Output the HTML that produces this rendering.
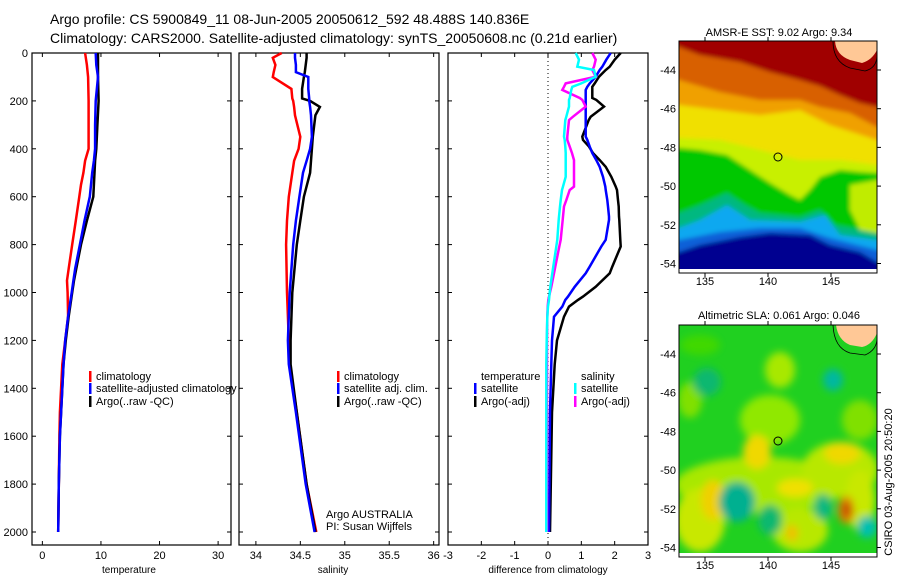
<!DOCTYPE html>
<html><head><meta charset="utf-8"><style>
body{margin:0;background:#fff;}
svg{display:block;font-family:"Liberation Sans",sans-serif;}
</style></head><body>
<svg id="c" width="900" height="580" xmlns="http://www.w3.org/2000/svg">
<defs>
<filter id="bl" x="-50%" y="-50%" width="200%" height="200%"><feGaussianBlur stdDeviation="4"/></filter>
<filter id="bl2" x="-10%" y="-10%" width="120%" height="120%"><feGaussianBlur stdDeviation="2"/></filter>
<clipPath id="cm1"><rect x="679" y="41" width="198" height="228"/></clipPath>
<clipPath id="cm2"><rect x="679" y="325" width="198" height="228"/></clipPath>
</defs>
<text x="50" y="24" font-size="14">Argo profile: CS 5900849_11 08-Jun-2005 20050612_592 48.488S 140.836E</text>
<text x="50" y="43" font-size="14">Climatology: CARS2000. Satellite-adjusted climatology: synTS_20050608.nc (0.21d earlier)</text>

<!-- SST map -->
<g>
<g clip-path="url(#cm1)" filter="url(#bl2)">
<rect x="670" y="30" width="220" height="250" fill="#a00000"/>
<polygon fill="#d86000" points="670,45 679,47 700,55 740,62 770,72 800,80 820,86 840,95 860,103 890,110 890,280 670,280"/>
<polygon fill="#f0a000" points="670,75 679,80 720,92 760,100 800,100 820,107 850,113 877,127 890,128 890,280 670,280"/>
<polygon fill="#f0e000" points="670,100 679,105 720,110 760,115 800,110 830,125 877,140 890,140 890,280 670,280"/>
<polygon fill="#c8f000" points="670,135 679,138 720,140 760,150 800,160 840,160 877,165 890,165 890,280 670,280"/>
<polygon fill="#00c800" points="670,148 679,148 700,150 727,155 750,170 770,183 790,195 800,200 810,190 820,177 840,170 860,172 877,173 890,173 890,280 670,280"/>
<polygon fill="#c0ec00" points="850,185 877,180 890,180 890,240 860,230 850,210"/>
<polygon fill="#00b880" points="670,213 679,213 700,205 727,193 745,205 760,213 800,217 820,210 835,225 877,233 890,233 890,280 670,280"/>
<polygon fill="#10a8f0" points="670,228 679,228 700,220 727,205 750,220 800,222 825,215 840,235 877,240 890,240 890,280 670,280"/>
<polygon fill="#1060d8" points="670,240 679,240 720,232 760,228 800,228 830,238 877,250 890,250 890,280 670,280"/>
<polygon fill="#000090" points="670,252 679,252 700,245 740,237 770,233 810,235 830,245 860,252 877,262 890,262 890,280 670,280"/>
</g>
<rect x="679" y="269" width="198" height="4" fill="#fff"/>
<path d="M835,41 Q836,55 850,60 L862,63 Q872,60 877,50 L877,41 Z" fill="#ffc896"/>
<path d="M833,41 Q833,62 850,68 L865,71 Q877,68 877,55" fill="none" stroke="#000" stroke-width="0.8"/>
<circle cx="778" cy="157" r="4" fill="none" stroke="#000" stroke-width="1"/>
<rect x="679" y="41" width="198" height="232" fill="none" stroke="#000"/>
<text x="779" y="36" font-size="11" text-anchor="middle">AMSR-E SST: 9.02 Argo: 9.34</text>
</g>

<!-- SLA map -->
<g>
<g clip-path="url(#cm2)">
<rect x="670" y="315" width="220" height="250" fill="#20d020"/>
<g filter="url(#bl)">
<ellipse cx="780" cy="370" rx="15" ry="18" fill="#a8e800"/>
<ellipse cx="690" cy="400" rx="12" ry="18" fill="#80e000"/>
<ellipse cx="700" cy="345" rx="20" ry="10" fill="#40d800"/>
<ellipse cx="770" cy="420" rx="30" ry="25" fill="#90e800"/>
<ellipse cx="860" cy="420" rx="18" ry="20" fill="#80e000"/>
<ellipse cx="760" cy="485" rx="85" ry="28" fill="#a8e800"/>
<ellipse cx="840" cy="470" rx="38" ry="28" fill="#b8e800"/>
<ellipse cx="700" cy="520" rx="25" ry="32" fill="#c8e800"/>
<ellipse cx="800" cy="530" rx="28" ry="22" fill="#b8e800"/>
<ellipse cx="860" cy="500" rx="15" ry="30" fill="#c8e800"/>
<ellipse cx="757" cy="452" rx="14" ry="17" fill="#f0d800"/>
<ellipse cx="842" cy="453" rx="18" ry="11" fill="#f0d800"/>
<ellipse cx="713" cy="500" rx="12" ry="20" fill="#f0d000"/>
<ellipse cx="795" cy="488" rx="18" ry="9" fill="#f0e000"/>
<ellipse cx="792" cy="533" rx="6" ry="8" fill="#f0c000"/>
<ellipse cx="846" cy="510" rx="8" ry="14" fill="#e08000"/>
<ellipse cx="847" cy="510" rx="4" ry="7" fill="#c04000"/>
<ellipse cx="833" cy="380" rx="10" ry="11" fill="#00b8a0"/>
<ellipse cx="707" cy="382" rx="14" ry="14" fill="#10b870"/>
<ellipse cx="737" cy="502" rx="18" ry="20" fill="#00b090"/>
<ellipse cx="867" cy="527" rx="10" ry="11" fill="#00c0b0"/>
<ellipse cx="823" cy="507" rx="9" ry="13" fill="#10b880"/>
<ellipse cx="770" cy="520" rx="12" ry="15" fill="#10b870"/>
</g>
</g>
<path d="M836,325 Q838,340 850,345 L862,347 Q872,345 877,333 L877,325 Z" fill="#ffc896"/>
<path d="M833,325 Q834,348 850,353 L865,355 Q877,350 877,338" fill="none" stroke="#000" stroke-width="0.8"/>
<circle cx="778" cy="441" r="4" fill="none" stroke="#000" stroke-width="1"/>
<rect x="679" y="325" width="198" height="232" fill="none" stroke="#000"/>
<text x="779" y="319" font-size="11" text-anchor="middle">Altimetric SLA: 0.061 Argo: 0.046</text>
</g>
<text transform="translate(892,482) rotate(-90)" font-size="11" text-anchor="middle">CSIRO 03-Aug-2005 20:50:20</text>
<g id="dyn"></g>
</svg>
<script>
// depth axis
const depthTicks=[0,200,400,600,800,1000,1200,1400,1600,1800,2000];
const tempTicks=[0,10,20,30];
const salTicks=[34,34.5,35,35.5,36];
const diffTicks=[-3,-2,-1,0,1,2,3];
// temperature profiles
const tDepth=[0,50,100,200,300,400,450,500,550,600,700,800,900,950,1000,1100,1200,1300,1400,1500,1600,1800,2000];
const tClim=[7.3,7.6,7.8,7.9,7.9,7.9,7.3,7.0,6.6,6.3,5.7,5.1,4.5,4.2,4.3,4.4,3.9,3.4,3.2,3.0,2.9,2.8,2.7];
const tSat=[9.1,9.2,9.5,9.1,9.0,9.0,8.8,8.5,8.3,8.1,7.2,6.4,5.6,5.3,5.0,4.4,3.9,3.6,3.4,3.2,3.0,2.8,2.7];
const tArgo=[9.5,9.5,9.5,9.6,9.4,9.2,9.0,8.9,8.8,8.7,7.6,6.6,5.8,5.4,5.1,4.5,4.0,3.6,3.4,3.2,3.0,2.8,2.7];
// salinity profiles
const sDepth=[0,20,50,80,100,150,190,200,225,260,350,400,450,500,600,700,800,1000,1200,1300,1500,1800,2000];
const sClim=[34.29,34.19,34.22,34.20,34.19,34.40,34.41,34.42,34.43,34.44,34.50,34.48,34.43,34.41,34.37,34.35,34.34,34.35,34.37,34.38,34.46,34.57,34.68];
const sSat=[34.44,34.44,34.45,34.45,34.59,34.59,34.60,34.60,34.61,34.62,34.63,34.61,34.57,34.53,34.49,34.45,34.42,34.38,34.36,34.37,34.45,34.56,34.66];
const sArgo=[34.57,34.57,34.56,34.55,34.54,34.52,34.52,34.61,34.72,34.67,34.64,34.63,34.62,34.61,34.54,34.50,34.46,34.41,34.39,34.39,34.46,34.57,34.67];
// differences
const dDepth=[0,28,57,71,99,127,141,154,188,196,224,266,280,349,363,391,418,447,475,517,558,572,614,641,683,697,780,808,892,920,976,1017,1031,1059,1101,1200,1300,1500,2000];
const dTempArgo=[2.18,2.0,1.85,1.73,1.53,1.40,1.33,1.33,1.33,1.45,1.68,1.28,1.22,1.03,1.05,1.23,1.35,1.55,1.73,1.90,2.03,2.07,2.10,2.12,2.13,2.14,2.17,2.18,1.93,1.85,1.43,1.05,0.90,0.63,0.48,0.27,0.20,0.12,0.06];
const dTempSat=[1.88,1.75,1.63,1.55,1.43,1.25,1.18,1.13,1.13,1.13,1.13,1.13,1.13,1.13,1.18,1.25,1.33,1.45,1.55,1.65,1.72,1.73,1.78,1.80,1.83,1.83,1.73,1.60,1.25,1.13,0.80,0.60,0.52,0.43,0.18,0.12,0.10,0.06,0.03];
const dSalSat=[0.83,0.93,0.88,1.38,1.43,1.00,0.73,0.70,0.65,0.63,0.63,0.55,0.52,0.48,0.50,0.52,0.53,0.53,0.53,0.53,0.45,0.42,0.38,0.36,0.33,0.32,0.28,0.25,0.16,0.13,0.07,0.04,0.03,0.0,-0.02,-0.04,-0.05,-0.05,-0.05];
const dSalArgo=[1.33,1.43,1.38,1.33,1.43,0.53,0.48,0.43,0.95,1.03,1.13,0.75,0.63,0.58,0.58,0.65,0.72,0.78,0.78,0.78,0.78,0.65,0.55,0.48,0.45,0.44,0.38,0.34,0.22,0.18,0.10,0.03,0.01,-0.01,-0.02,-0.03,-0.03,-0.03,-0.03];

const NS='http://www.w3.org/2000/svg';
const g=document.getElementById('dyn');
function el(tag,attrs,parent){const e=document.createElementNS(NS,tag);for(const k in attrs)e.setAttribute(k,attrs[k]);(parent||g).appendChild(e);return e;}
const Y0=53,Y1=545;
function yD(d){return 53+d*0.2395;}
function mkX(x0,x1,v0,v1){return v=>x0+(v-v0)/(v1-v0)*(x1-x0);}
const panels=[
 {name:'temperature-panel',x0:32,x1:231,v0:-1.77,v1:32.2,ticks:tempTicks,label:'temperature',lx:129},
 {name:'salinity-panel',x0:239,x1:439,v0:33.81,v1:36.06,ticks:salTicks,label:'salinity',lx:333},
 {name:'difference-panel',x0:448,x1:648,v0:-3,v1:3,ticks:diffTicks,label:'difference from climatology',lx:548}
];
panels.forEach((p,i)=>{
 p.sx=mkX(p.x0,p.x1,p.v0,p.v1);
 const pg=el('g',{});
 
 
 p.g=pg;
 const r=el('rect',{x:p.x0,y:Y0,width:p.x1-p.x0,height:Y1-Y0,fill:'none',stroke:'#000','stroke-width':1.2},pg);
 
 
 depthTicks.forEach(d=>{
  el('line',{x1:p.x0,x2:p.x0+4,y1:yD(d),y2:yD(d),stroke:'#000'},pg);
  el('line',{x1:p.x1-4,x2:p.x1,y1:yD(d),y2:yD(d),stroke:'#000'},pg);
  if(i===0){const t=el('text',{x:28,y:yD(d)+4,'font-size':11,'text-anchor':'end'},pg);t.textContent=d;
   
   }
 });
 p.ticks.forEach(v=>{
  const x=p.sx(v);
  el('line',{x1:x,x2:x,y1:Y0,y2:Y0+4,stroke:'#000'},pg);
  el('line',{x1:x,x2:x,y1:Y1-4,y2:Y1,stroke:'#000'},pg);
  const t=el('text',{x:x,y:559,'font-size':11,'text-anchor':'middle'},pg);t.textContent=v;
  
  
 });
 const l=el('text',{x:p.lx,y:573,'font-size':10,'text-anchor':'middle'},pg);l.textContent=p.label;
 
 
});
function line(p,xs,ds,color,name,w){
 const pts=xs.map((v,k)=>p.sx(v).toFixed(1)+','+yD(ds[k]).toFixed(1)).join(' ');
 const e=el('polyline',{points:pts,fill:'none',stroke:color,'stroke-width':w||2.5,'stroke-linejoin':'miter'},p.g);
 
 
}
// zero line
const zx=panels[2].sx(0);
const z=el('line',{x1:zx,x2:zx,y1:Y0,y2:Y1,stroke:'#000','stroke-dasharray':'1,3'},panels[2].g);


line(panels[0],tClim,tDepth,'#f00','temperature-climatology-line');
line(panels[0],tArgo,tDepth,'#000','temperature-argo-line');
line(panels[0],tSat,tDepth,'#00f','temperature-satellite-line');
line(panels[1],sClim,sDepth,'#f00','salinity-climatology-line');
line(panels[1],sArgo,sDepth,'#000','salinity-argo-line');
line(panels[1],sSat,sDepth,'#00f','salinity-satellite-line');
line(panels[2],dTempArgo,dDepth,'#000','temp-diff-argo-line');
line(panels[2],dTempSat,dDepth,'#00f','temp-diff-satellite-line');
line(panels[2],dSalArgo,dDepth,'#f0f','sal-diff-argo-line');
line(panels[2],dSalSat,dDepth,'#0ff','sal-diff-satellite-line');
// legends
function legend(x,y,color,txt,name){
 const lg=el('g',{});
 
 
 if(color)el('rect',{x:x-7,y:y-9,width:2.5,height:11,fill:color},lg);
 const t=el('text',{x:x,y:y,'font-size':11},lg);t.textContent=txt;
}
legend(96,380,'#f00','climatology','legend-climatology');
legend(96,392,'#00f','satellite-adjusted climatology','legend-satellite');
legend(96,405,'#000','Argo(..raw -QC)','legend-argo');
legend(344,380,'#f00','climatology','legend-sal-climatology');
legend(344,392,'#00f','satellite adj. clim.','legend-sal-satellite');
legend(344,405,'#000','Argo(..raw -QC)','legend-sal-argo');
legend(481,380,null,'temperature','legend-temperature-header');
legend(481,392,'#00f','satellite','legend-temp-satellite');
legend(481,405,'#000','Argo(-adj)','legend-temp-argo');
legend(581,380,null,'salinity','legend-salinity-header');
legend(581,392,'#0ff','satellite','legend-sal-sat');
legend(581,405,'#f0f','Argo(-adj)','legend-sal-argo-diff');
const a1=el('text',{x:326,y:518,'font-size':11});a1.textContent='Argo AUSTRALIA';


const a2=el('text',{x:326,y:530,'font-size':11});a2.textContent='PI: Susan Wijffels';


// map axes
const lonTicks=[135,140,145];
const latTicks=[-44,-46,-48,-50,-52,-54];
function lonX(v){return 705+(v-135)*12.6;}
[[41,273,70,285],[325,557,354,569]].forEach(([top,bot,lat44,ly],mi)=>{
 lonTicks.forEach(v=>{
  const x=lonX(v);
  el('line',{x1:x,x2:x,y1:top,y2:top-4,stroke:'#000'});
  el('line',{x1:x,x2:x,y1:bot,y2:bot+4,stroke:'#000'});
  const t=el('text',{x:x,y:ly,'font-size':11,'text-anchor':'middle'});t.textContent=v;
  
  
 });
 latTicks.forEach(v=>{
  const y=lat44+(-44-v)*19.35;
  el('line',{x1:877,x2:881,y1:y,y2:y,stroke:'#000'});
  const t=el('text',{x:676,y:y+4,'font-size':11,'text-anchor':'end'});t.textContent=v;
  
  
 });
});
</script>
</body></html>
